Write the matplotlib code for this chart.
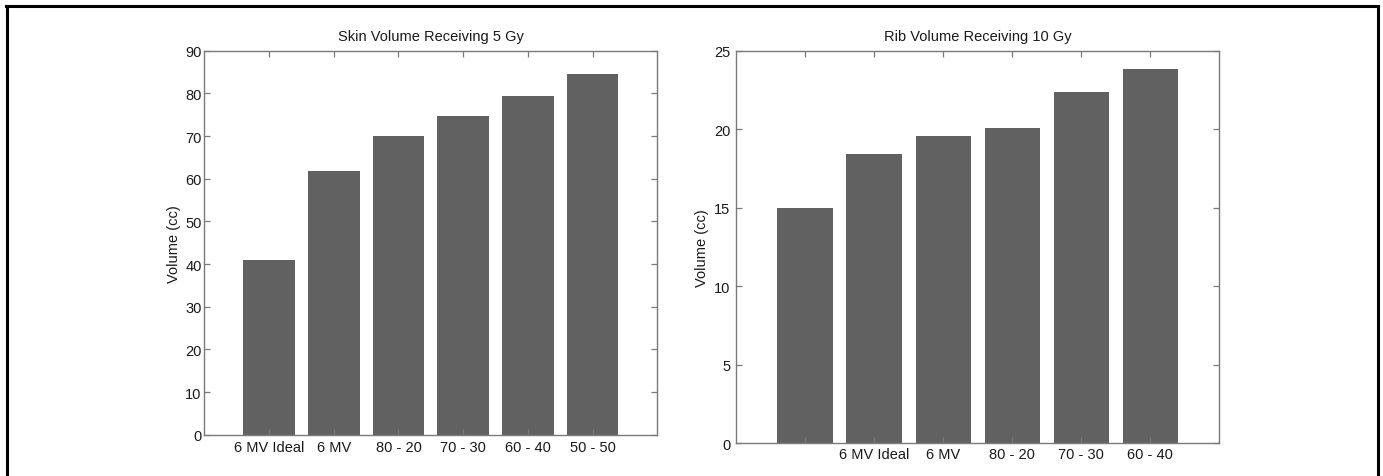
import matplotlib
matplotlib.use("Agg")
import matplotlib.pyplot as plt
from matplotlib.lines import Line2D

plt.rcParams['font.family'] = ['Liberation Sans', 'DejaVu Sans']

# Skin volume receiving 5 Gy
skin_labels = ["6 MV Ideal", "6 MV", "80 - 20", "70 - 30", "60 - 40", "50 - 50"]
skin_values = [41.0, 61.7, 70.1, 74.8, 79.4, 84.5]

# Rib volume receiving 10 Gy (labels sit one tick to the right in the original)
rib_labels = ["", "6 MV Ideal", "6 MV", "80 - 20", "70 - 30", "60 - 40"]
rib_values = [15.0, 18.45, 19.6, 20.05, 22.4, 23.85]

bar_color = "#616161"
spine_color = "#7a7a7a"
text_color = "#1a1a1a"
W, H = 1383, 477

fig = plt.figure(figsize=(W / 100, H / 100), dpi=100)


def make_axes(left, top, right, bottom):
    return fig.add_axes([left / W, 1 - bottom / H, (right - left) / W, (bottom - top) / H])


def style(ax, ymax, ystep, xpad, ypad):
    ax.set_xlim(0, 7)
    ax.set_ylim(0, ymax)
    ax.set_yticks(range(0, ymax + 1, ystep))
    for s in ax.spines.values():
        s.set_color(spine_color)
        s.set_linewidth(1.0)
    ax.tick_params(axis='both', direction='in', length=4, width=0.9, color=spine_color,
                   labelsize=10.5, labelcolor=text_color, top=True, right=True)
    ax.tick_params(axis='x', pad=xpad)
    ax.tick_params(axis='y', pad=ypad)


x = list(range(1, 7))

ax1 = make_axes(204.3, 51.7, 657.3, 435.7)
ax1.bar(x, skin_values, width=0.8, color=bar_color, zorder=1)
style(ax1, 90, 10, 3.5, 2)
ax1.set_xticks(x)
ax1.set_xticklabels(skin_labels)
ax1.set_title("Skin Volume Receiving 5 Gy", fontsize=10.5, color=text_color, pad=7.5)
ax1.set_ylabel("Volume (cc)", fontsize=10.5, color=text_color, labelpad=3)

ax2 = make_axes(736, 51.7, 1219.3, 444.3)
ax2.bar(x, rib_values, width=0.8, color=bar_color, zorder=1)
style(ax2, 25, 5, 2.5, 4)
ax2.set_xticks(x)
ax2.set_xticklabels(rib_labels)
ax2.set_title("Rib Volume Receiving 10 Gy", fontsize=10.5, color=text_color, pad=7.5)
ax2.set_ylabel("Volume (cc)", fontsize=10.5, color=text_color, labelpad=4)

# outer frame of the figure panel (top, left, right)
for xs, ys in [((6 / W, 1378 / W), (1 - 6.5 / H, 1 - 6.5 / H)),
               ((6.5 / W, 6.5 / W), (0, 1 - 6.5 / H)),
               ((1378 / W, 1378 / W), (0, 1 - 6.5 / H))]:
    fig.add_artist(Line2D(xs, ys, transform=fig.transFigure, color="black", linewidth=2.2))

fig.savefig("out.png", dpi=100)
